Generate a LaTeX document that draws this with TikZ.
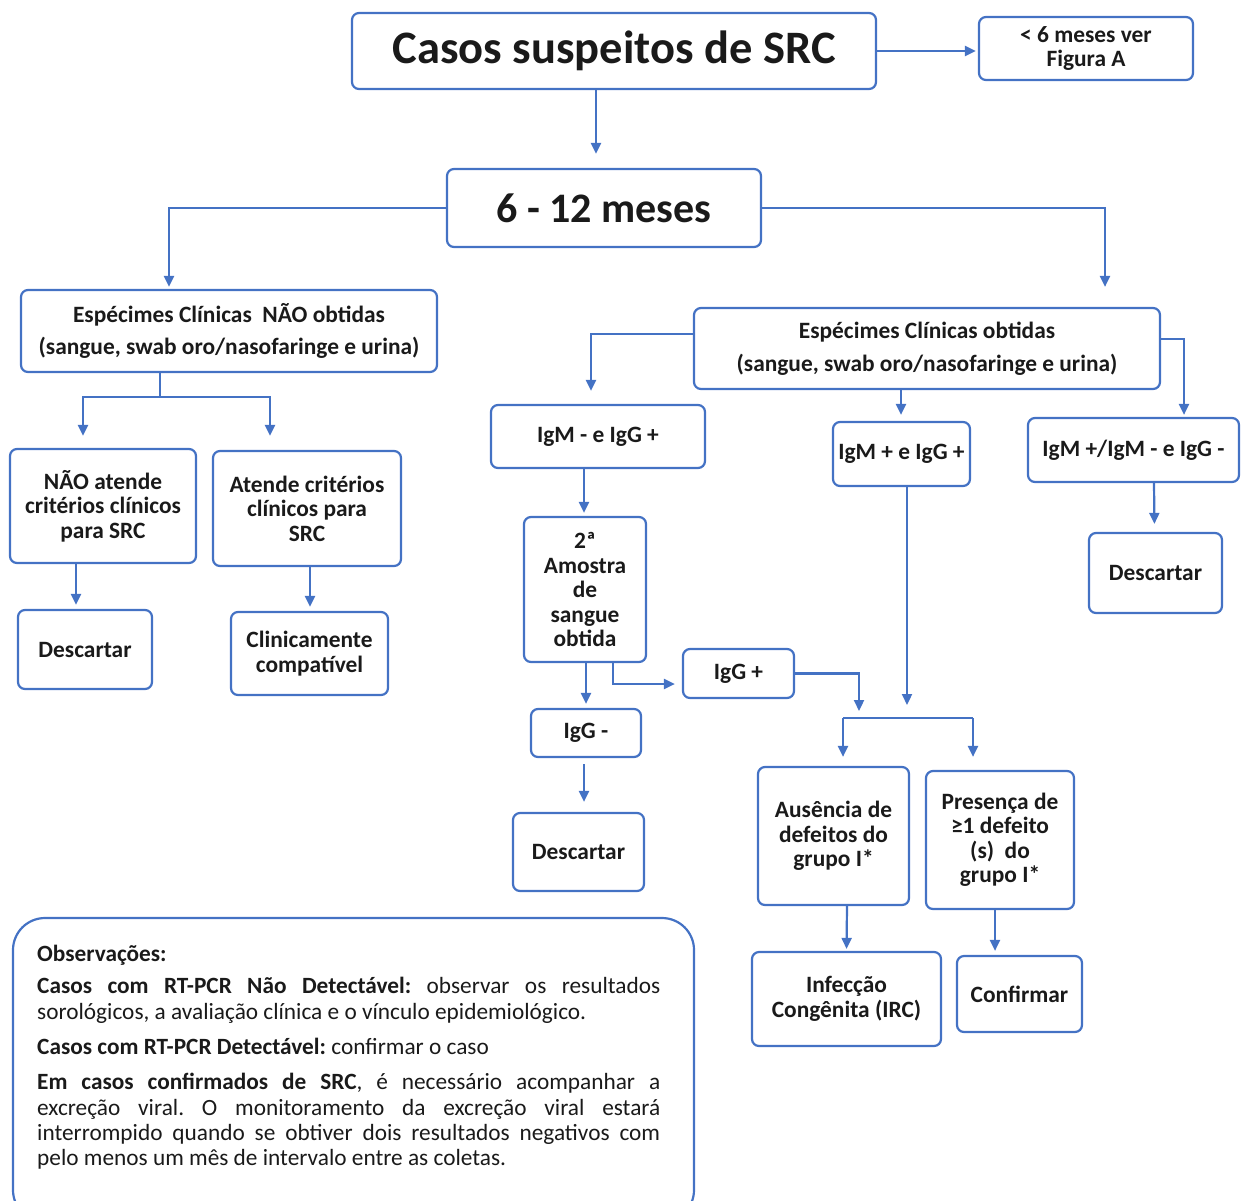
\documentclass[tikz,border=0pt]{standalone}
\usepackage{fontspec}
\setmainfont{Carlito}
\usetikzlibrary{arrows.meta}
\definecolor{blu}{HTML}{4472C4}
\definecolor{ink}{HTML}{1A1A1A}
\newcommand\bx[6]{\node[box,minimum width=#4pt,minimum height=#5pt] (#1) at (#2,#3) {#6};}
\begin{document}
\begin{tikzpicture}[x=1pt,y=-1pt,
 box/.style={draw=blu, line width=2.2pt, rounded corners=7pt, align=center, inner sep=0pt, text=ink, font=\bfseries\fontsize{23.4}{24.5}\selectfont},
 line/.style={draw=blu, line width=2.2pt},
 arr/.style={line, -{Triangle[length=11pt,width=10pt]}}]
\useasboundingbox (0,0) rectangle (1241,1200);
\clip (0,0) rectangle (1241,1200);
% boxes
\bx{title}{614}{51}{524}{76}{\fontsize{46.5}{50}\selectfont Casos suspeitos de SRC}
\bx{figA}{1086}{48.5}{214}{63}{{<} 6 meses ver\\Figura A}
\bx{m612}{604}{208}{314}{78}{\fontsize{42}{46}\selectfont 6 - 12 meses}
\bx{nao}{229}{331}{416}{82}{Espécimes Clínicas\ \ NÃO obtidas\\[7pt](sangue, swab oro/nasofaringe e urina)}
\bx{obt}{927}{348.5}{466}{81}{Espécimes Clínicas obtidas\\[8pt](sangue, swab oro/nasofaringe e urina)}
\bx{naoat}{103}{506}{186}{114}{NÃO atende\\critérios clínicos\\para SRC}
\bx{ati}{307}{508.5}{188}{115}{Atende critérios\\clínicos para\\SRC}
\bx{descA}{85}{649.5}{134}{79}{Descartar}
\bx{clin}{309.5}{653.5}{157}{83}{Clinicamente\\compatível}
\bx{igmA}{598}{436.5}{214}{63}{IgM - e IgG +}
\bx{igmB}{901.5}{454}{137}{64}{IgM + e IgG +}
\bx{igmC}{1133.5}{450}{211}{64}{IgM +/IgM - e IgG -}
\bx{descC}{1155.5}{573}{133}{80}{Descartar}
\bx{amo}{585}{589.5}{122}{145}{2ª\\Amostra\\de\\sangue\\obtida}
\bx{iggN}{586}{733}{110}{48}{IgG -}
\bx{descB}{578.5}{852}{131}{78}{Descartar}
\bx{iggP}{738.5}{673.5}{111}{49}{IgG +}
\bx{aus}{833.5}{836}{151}{138}{Ausência de\\defeitos do\\grupo I*}
\bx{pres}{1000}{840}{148}{138}{Presença de\\≥1 defeito\\(s)\ \ do\\grupo I*}
\bx{infc}{846.5}{999}{189}{94}{Infecção\\Congênita (IRC)}
\bx{conf}{1019.5}{994}{125}{76}{Confirmar}
% observations
\draw[line, rounded corners=32pt] (13,918) rectangle (694,1222);
\node[anchor=north west, text width=623pt, inner sep=0pt, align=justify, text=ink,
      font=\fontsize{23.3}{25.3}\selectfont] (obstext) at (37,945) {\setlength\parindent{0pt}\frenchspacing
\textbf{Observações:}\par\vspace{7pt}
\textbf{Casos com RT-PCR Não Detectável:} observar os resultados\linebreak sorológicos, a avaliação clínica e o vínculo epidemiológico.\par\vspace{10pt}
\textbf{Casos com RT-PCR Detectável:} confirmar o caso\par\vspace{10pt}
\textbf{Em casos confirmados de SRC}, é necessário acompanhar a\linebreak excreção viral. O monitoramento da excreção viral estará\linebreak interrompido quando se obtiver dois resultados negativos com\linebreak pelo menos um mês de intervalo entre as coletas.};
% connectors
\draw[arr, shorten >=2pt] (title.east) -- (title.east -| figA.west);
\draw[arr, shorten >=14pt] ([xshift=-18pt]title.south) -- ([xshift=-8pt]m612.north);
\draw[arr, shorten >=2pt] (m612.west) -| ([xshift=-60pt]nao.north);
\draw[arr, shorten >=20pt] (m612.east) -| ([xshift=178pt]obt.north);
\coordinate (jA) at (160,397);
\draw[line] (jA |- nao.south) -- (jA);
\draw[arr, shorten >=12pt] (jA) -| ([xshift=-20pt]naoat.north);
\draw[arr, shorten >=14pt] (jA) -| ([xshift=-37pt]ati.north);
\draw[arr, shorten >=4pt] ([xshift=-27pt]naoat.south) -- ([xshift=-9pt]descA.north);
\draw[arr, shorten >=4pt] ([xshift=3pt]ati.south) -- ([xshift=0.5pt]clin.north);
\draw[arr, shorten >=13pt] ([yshift=14.5pt]obt.west) -| ([xshift=-7pt]igmA.north);
\draw[arr, shorten >=6pt] ([xshift=-26pt]obt.south) -- ([xshift=-0.5pt]igmB.north);
\draw[arr, shorten >=2pt] ([yshift=9.5pt]obt.east) -| ([xshift=50.5pt]igmC.north);
\draw[arr, shorten >=8pt] ([xshift=20.5pt]igmC.south) -- ([xshift=-1pt]descC.north);
\draw[arr, shorten >=3pt] ([xshift=-14pt]igmA.south) -- ([xshift=-1pt]amo.north);
\draw[arr, shorten >=4pt] ([xshift=1pt]amo.south) -- (iggN.north);
\draw[arr, shorten <=6pt, shorten >=10pt] ([xshift=-2pt]iggN.south) -- ([xshift=5.5pt]descB.north);
\draw[arr, shorten >=7pt] ([xshift=28pt]amo.south) |- ([yshift=-10.5pt]iggP.west);
\coordinate (eP) at (859,711);
\coordinate (eM) at (907,705);
\draw[arr] (iggP.east) -| (eP);
\draw[arr] ([xshift=5.5pt]igmB.south) -- (eM);
\coordinate (jL) at (843,718);
\coordinate (jR) at (973,718);
\draw[line] (jL) -- (jR);
\draw[arr, shorten >=9pt] (jL) -- ([xshift=9.5pt]aus.north);
\draw[arr, shorten >=13pt] (jR) -- ([xshift=-27pt]pres.north);
\draw[arr, shorten >=2pt] ([xshift=13.5pt]aus.south) -- (infc.north);
\draw[arr, shorten >=4pt] ([xshift=-5pt]pres.south) -- ([xshift=-24.5pt]conf.north);
\end{tikzpicture}
\end{document}
